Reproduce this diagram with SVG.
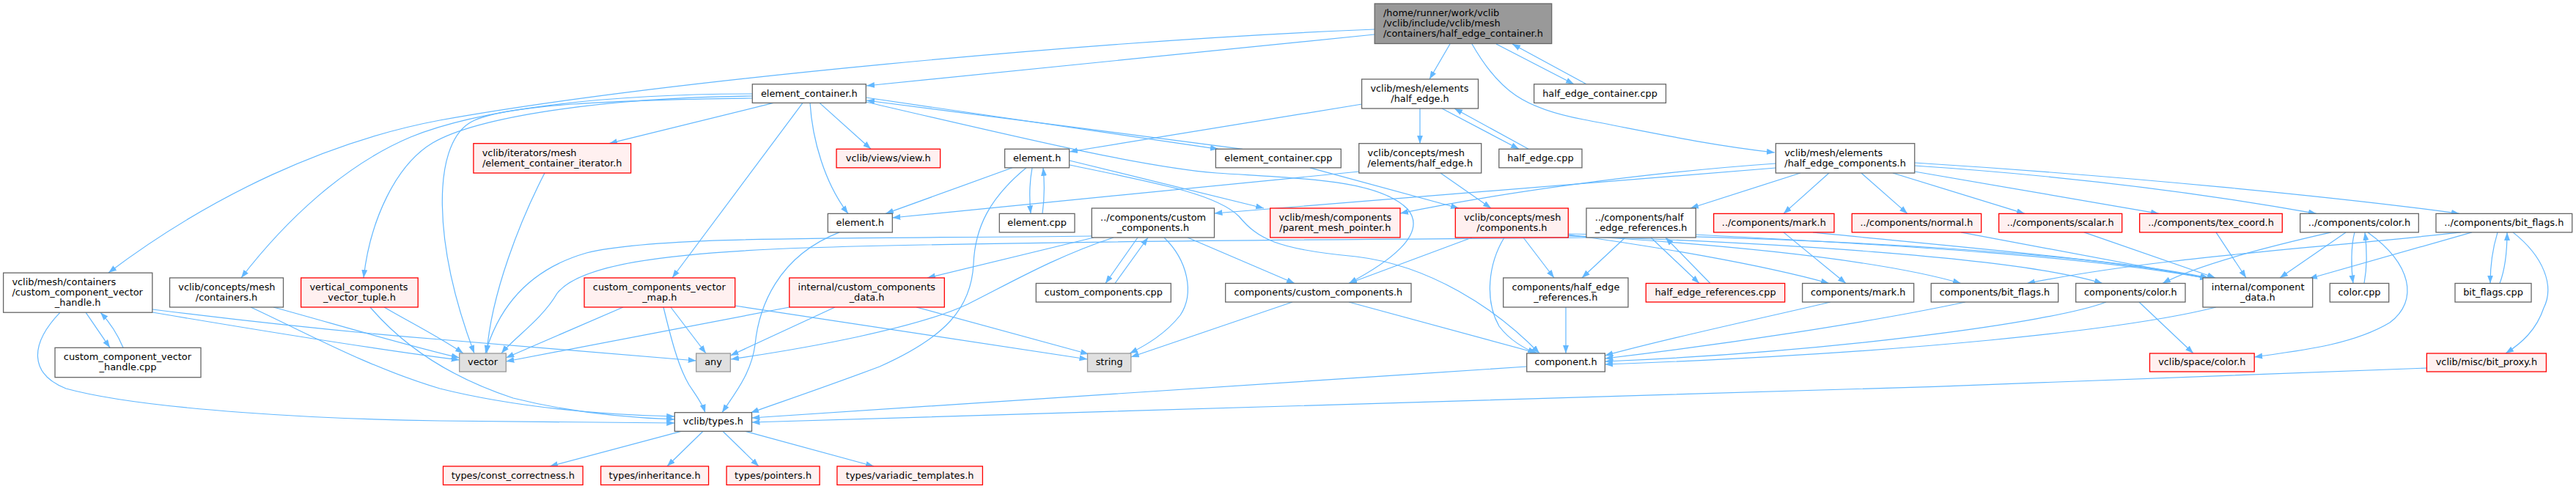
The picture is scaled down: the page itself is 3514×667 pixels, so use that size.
<svg xmlns="http://www.w3.org/2000/svg" width="3514" height="667" viewBox="0 0 3514 667">
<defs>
<marker id="a" markerUnits="userSpaceOnUse" markerWidth="12" markerHeight="9" refX="11" refY="4" orient="auto"><path d="M0,0 L11,4 L0,8 z" fill="#63b8ff"/></marker>
<style>
rect{stroke-width:1.3}
.n rect{fill:#ffffff;stroke:#666666}
.r rect{fill:#fff0f0;stroke:#ff0000}
.x rect{fill:#e0e0e0;stroke:#999999}
.m rect{fill:#999999;stroke:#666666}
text{font-family:"DejaVu Sans","Liberation Sans",sans-serif;font-size:12.9px;fill:#000000}
.c{text-anchor:middle}
#edges path{fill:none;stroke:#63b8ff;stroke-width:1.2;marker-end:url(#a)}
</style>
</defs>
<rect width="3514" height="667" fill="#ffffff"/>
<g id="edges">
<path d="M1875,47 L1182,117"/>
<path d="M1875,40 C1500,55 900,110 600,164 C450,192 290,265 148,372"/>
<path d="M1978,60 L1950,108"/>
<path d="M2008,60 C2045,125 2080,148 2160,163 C2250,180 2330,198 2421,208"/>
<path d="M2041,60 L2147,114.8"/>
<path d="M2164,114.8 L2063,60"/>
<path d="M1026,128 C820,128 650,150 560,187 C470,225 390,300 329,379"/>
<path d="M1026,131 C820,133 650,160 590,195 C540,225 505,300 496,379"/>
<path d="M1026,134 C850,136 680,142 640,168 C590,200 590,330 647,482"/>
<path d="M1055,140.4 L831,195.7"/>
<path d="M1095,140.4 L917,379"/>
<path d="M1105,140.4 C1108,190 1125,250 1157,291.4"/>
<path d="M1118,140.4 L1188,203.3"/>
<path d="M1181,133 L1662,203.3"/>
<path d="M1695,203.3 L1182,137"/>
<path d="M1181,139 C1400,190 1560,228 1660,236 C1780,244 1880,245 1920,285 C1950,320 1890,360 1840,386.5"/>
<path d="M1858,142 L1459,207"/>
<path d="M1937,148 L1937,195.7"/>
<path d="M1967,148 L2072,203.3"/>
<path d="M2085,203.3 L1984,148"/>
<path d="M1965,236 L2034,284"/>
<path d="M1854,234 L1217.3,297"/>
<path d="M1787,228.8 L1990,284"/>
<path d="M1381,228.8 L1208,291.4"/>
<path d="M1408,228.8 C1404,250 1404,270 1406,291.4"/>
<path d="M1422,291.4 C1425,270 1425,250 1423,228.8"/>
<path d="M1400,228.8 C1350,270 1330,310 1328,360 C1325,420 1290,460 1200,500 C1120,530 1060,550 1024,563"/>
<path d="M1459,219 L1724,284"/>
<path d="M1459,225 C1580,250 1660,265 1690,295 C1715,325 1740,340 1850,350 C1950,362 2040,420 2100,482"/>
<path d="M1145,316.9 C1060,350 1035,420 1030,470 C1025,510 1000,540 985,562.7"/>
<path d="M1492,324 L1265,379"/>
<path d="M1552,324 L1508,386.5"/>
<path d="M1521,386.5 L1566,324"/>
<path d="M1588,324 C1620,355 1630,400 1610,430 C1590,455 1565,470 1541,482"/>
<path d="M1620,324 L1766,386.5"/>
<path d="M1519,324 C1440,350 1380,385 1320,415 C1250,448 1100,475 997,490"/>
<path d="M1489.3,322 C1200,326 900,320 800,345 C720,368 680,420 662,482"/>
<path d="M2164,324 C2000,326 1400,328 1100,338 C900,345 790,362 760,400 C740,435 700,462 684,482"/>
<path d="M208,422 C350,440 500,455 600,463 L949.7,492"/>
<path d="M208,426 C350,450 500,475 626.7,491"/>
<path d="M82,426.2 C40,470 40,510 90,530 C200,560 450,572 600,574 L920.3,577"/>
<path d="M117,426.2 L150,474.3"/>
<path d="M168,474.3 C160,455 150,440 137,426.2"/>
<path d="M373,419 C450,440 550,470 626.7,488"/>
<path d="M342,419 C420,455 500,500 600,530 C700,555 820,566 920.3,568"/>
<path d="M524,419 C560,440 600,460 632,482"/>
<path d="M505,419 C540,460 600,510 700,543 C780,563 860,570 920.3,572"/>
<path d="M743,236 C710,300 670,400 664,482"/>
<path d="M850,419 L690.3,488"/>
<path d="M915,419 L963,482"/>
<path d="M905,419 C915,460 925,500 940,525 C950,540 958,550 962,562.7"/>
<path d="M1002.7,417 L1483.5,490"/>
<path d="M1077,419 L690.3,493"/>
<path d="M1139,419 L996.4,485"/>
<path d="M1250,419 L1485,483"/>
<path d="M1840,412 L2098,482"/>
<path d="M1763,412 L1542.8,487"/>
<path d="M2008,324 L1840,386.5"/>
<path d="M2078,324 L2120,379"/>
<path d="M2052,324 C2030,360 2025,410 2045,445 C2060,465 2080,475 2095,482"/>
<path d="M2139.3,320 C2250,335 2400,360 2495,386.5"/>
<path d="M2139.3,321 C2300,330 2550,350 2675,386.5"/>
<path d="M2139.3,322 C2400,330 2750,350 2868,386.5"/>
<path d="M2139.3,319 C2500,325 2850,345 3013,379"/>
<path d="M2217,324 L2158,379"/>
<path d="M2252,324 L2318,386.5"/>
<path d="M2333,386.5 L2272,324"/>
<path d="M2313.3,320 C2600,335 2850,350 3012,380"/>
<path d="M2136,419 L2136,482"/>
<path d="M2495,236 L2433,291.4"/>
<path d="M2539,236 L2602,291.4"/>
<path d="M2582,236 L2762,291.4"/>
<path d="M2611.8,234 L2945,291.4"/>
<path d="M2611.8,226 Q2900,245 3160,291.4"/>
<path d="M2611.8,222 C2900,240 3200,270 3355,291.4"/>
<path d="M2456,236 L2306,284"/>
<path d="M2422.4,229 Q2100,255 1656.5,291"/>
<path d="M2422.4,223 C2250,235 2050,262 1910,291"/>
<path d="M2433,316.9 L2518,386.5"/>
<path d="M2473,316.9 C2650,335 2900,355 3012,380"/>
<path d="M2675,316.9 L3012,380"/>
<path d="M2843,316.9 L3022,379"/>
<path d="M3023,316.9 L3064,379"/>
<path d="M3180,316.9 C3100,335 3000,360 2950,386.5"/>
<path d="M3200,316.9 L3110,379"/>
<path d="M3212,316.9 C3207,335 3207,365 3210,386.5"/>
<path d="M3225,386.5 C3229,365 3229,340 3226,316.9"/>
<path d="M3230,316.9 C3290,360 3300,410 3260,440 C3210,470 3140,478 3075.2,487"/>
<path d="M3357,316.9 C3150,340 2950,350 2765,386.5"/>
<path d="M3372,316.9 L3150,380"/>
<path d="M3407,316.9 C3400,340 3397,365 3397,386.5"/>
<path d="M3410,386.5 C3418,365 3420,340 3420,316.9"/>
<path d="M3428,316.9 C3470,350 3485,390 3470,420 C3460,450 3440,468 3418,482"/>
<path d="M2497,412 C2400,435 2280,460 2189.4,485"/>
<path d="M2681,412 C2550,440 2350,470 2189.4,489"/>
<path d="M2873,412 C2800,440 2500,480 2189.4,493"/>
<path d="M2918,412 L2992,482"/>
<path d="M3023,419 C2900,450 2600,482 2189.4,497"/>
<path d="M2082.7,500 C1700,525 1300,555 1025.5,570"/>
<path d="M3310.4,502 C2500,535 1500,565 1025.5,576"/>
<path d="M929,588.3 L750,636"/>
<path d="M959,588.3 L910,636"/>
<path d="M986,588.3 L1035,636"/>
<path d="M1017,588.3 L1192,636"/>
</g>
<g id="n_main" class="m"><rect x="1875.2" y="5" width="241.5" height="54.5"/><text x="1887" y="22.2">/home/runner/work/vclib</text><text x="1887" y="36.2">/vclib/include/vclib/mesh</text><text class="c" x="1996" y="50.2">/containers/half_edge_container.h</text></g>
<g id="n_ec" class="n"><rect x="1026.3" y="114.8" width="155" height="25.6"/><text class="c" x="1103.8" y="131.5">element_container.h</text></g>
<g id="n_hecpp" class="n"><rect x="2092.6" y="114.8" width="179.9" height="25.6"/><text class="c" x="2182.55" y="131.5">half_edge_container.cpp</text></g>
<g id="n_he" class="n"><rect x="1857.6" y="108" width="158.9" height="40"/><text x="1869.4" y="124.9">vclib/mesh/elements</text><text class="c" x="1937.05" y="138.9">/half_edge.h</text></g>
<g id="n_iter" class="r"><rect x="645.9" y="195.7" width="214.7" height="40.3"/><text x="657.7" y="212.75">vclib/iterators/mesh</text><text class="c" x="753.25" y="226.75">/element_container_iterator.h</text></g>
<g id="n_view" class="r"><rect x="1141" y="203.3" width="141.6" height="25.5"/><text class="c" x="1211.8" y="220">vclib/views/view.h</text></g>
<g id="n_e1" class="n"><rect x="1370.6" y="203.3" width="88" height="25.5"/><text class="c" x="1414.6" y="220">element.h</text></g>
<g id="n_eccpp" class="n"><rect x="1658.4" y="203.3" width="170.9" height="25.5"/><text class="c" x="1743.85" y="220">element_container.cpp</text></g>
<g id="n_che" class="n"><rect x="1853.8" y="195.7" width="166.9" height="40.3"/><text x="1865.6" y="212.75">vclib/concepts/mesh</text><text class="c" x="1937.25" y="226.75">/elements/half_edge.h</text></g>
<g id="n_hecpp2" class="n"><rect x="2044.8" y="203.3" width="113.2" height="25.5"/><text class="c" x="2101.4" y="220">half_edge.cpp</text></g>
<g id="n_hec" class="n"><rect x="2422.4" y="195.7" width="189.4" height="40.3"/><text x="2434.2" y="212.75">vclib/mesh/elements</text><text class="c" x="2517.1" y="226.75">/half_edge_components.h</text></g>
<g id="n_e2" class="n"><rect x="1129.3" y="291.4" width="88" height="25.5"/><text class="c" x="1173.3" y="308">element.h</text></g>
<g id="n_ecpp" class="n"><rect x="1363.3" y="291.4" width="102.7" height="25.5"/><text class="c" x="1414.65" y="308">element.cpp</text></g>
<g id="n_ccc" class="n"><rect x="1489.3" y="284" width="167.2" height="40"/><text x="1501.1" y="300.9">../components/custom</text><text class="c" x="1572.9" y="314.9">_components.h</text></g>
<g id="n_pmp" class="r"><rect x="1732.7" y="284" width="177.3" height="40"/><text x="1744.5" y="300.9">vclib/mesh/components</text><text class="c" x="1821.35" y="314.9">/parent_mesh_pointer.h</text></g>
<g id="n_cmc" class="r"><rect x="1985.3" y="284" width="154" height="40"/><text x="1997.1" y="300.9">vclib/concepts/mesh</text><text class="c" x="2062.3" y="314.9">/components.h</text></g>
<g id="n_cher" class="n"><rect x="2164" y="284" width="149.3" height="40"/><text x="2175.8" y="300.9">../components/half</text><text class="c" x="2238.65" y="314.9">_edge_references.h</text></g>
<g id="n_cmark" class="r"><rect x="2337.7" y="291.4" width="164.3" height="25.5"/><text class="c" x="2419.85" y="308">../components/mark.h</text></g>
<g id="n_cnormal" class="r"><rect x="2526.3" y="291.4" width="176.4" height="25.5"/><text class="c" x="2614.5" y="308">../components/normal.h</text></g>
<g id="n_cscalar" class="r"><rect x="2726.7" y="291.4" width="168" height="25.5"/><text class="c" x="2810.7" y="308">../components/scalar.h</text></g>
<g id="n_ctex" class="r"><rect x="2918.7" y="291.4" width="194.6" height="25.5"/><text class="c" x="3016" y="308">../components/tex_coord.h</text></g>
<g id="n_ccolor" class="n"><rect x="3137.7" y="291.4" width="161.6" height="25.5"/><text class="c" x="3218.5" y="308">../components/color.h</text></g>
<g id="n_ccbf" class="n"><rect x="3323" y="291.4" width="185.7" height="25.5"/><text class="c" x="3415.85" y="308">../components/bit_flags.h</text></g>
<g id="n_ccvh" class="n"><rect x="4.6" y="372.2" width="203.2" height="54"/><text x="16.4" y="389.1">vclib/mesh/containers</text><text x="16.4" y="403.1">/custom_component_vector</text><text class="c" x="106.2" y="417.1">_handle.h</text></g>
<g id="n_cont" class="n"><rect x="231.5" y="379" width="155" height="40"/><text x="243.3" y="395.9">vclib/concepts/mesh</text><text class="c" x="309" y="409.9">/containers.h</text></g>
<g id="n_vct" class="r"><rect x="410.6" y="379" width="159.6" height="40"/><text x="422.4" y="395.9">vertical_components</text><text class="c" x="490.4" y="409.9">_vector_tuple.h</text></g>
<g id="n_cvm" class="r"><rect x="797" y="379" width="205.7" height="40"/><text x="808.8" y="395.9">custom_components_vector</text><text class="c" x="899.85" y="409.9">_map.h</text></g>
<g id="n_icd" class="r"><rect x="1076.8" y="379" width="211.5" height="40"/><text x="1088.6" y="395.9">internal/custom_components</text><text class="c" x="1182.55" y="409.9">_data.h</text></g>
<g id="n_cccpp" class="n"><rect x="1413.3" y="386.5" width="184" height="25.5"/><text class="c" x="1505.3" y="403.2">custom_components.cpp</text></g>
<g id="n_comcc" class="n"><rect x="1671.7" y="386.5" width="253.3" height="25.5"/><text class="c" x="1798.35" y="403.2">components/custom_components.h</text></g>
<g id="n_comher" class="n"><rect x="2050.7" y="379" width="170.3" height="40"/><text x="2062.5" y="395.9">components/half_edge</text><text class="c" x="2135.85" y="409.9">_references.h</text></g>
<g id="n_hercpp" class="r"><rect x="2245.3" y="386.5" width="189.4" height="25.5"/><text class="c" x="2340" y="403.2">half_edge_references.cpp</text></g>
<g id="n_cm" class="n"><rect x="2458.7" y="386.5" width="152" height="25.5"/><text class="c" x="2534.7" y="403.2">components/mark.h</text></g>
<g id="n_cbfh" class="n"><rect x="2634.3" y="386.5" width="173.4" height="25.5"/><text class="c" x="2721" y="403.2">components/bit_flags.h</text></g>
<g id="n_ccol" class="n"><rect x="2831.7" y="386.5" width="149.3" height="25.5"/><text class="c" x="2906.35" y="403.2">components/color.h</text></g>
<g id="n_icomp" class="n"><rect x="3005" y="379" width="149.7" height="40"/><text x="3016.8" y="395.9">internal/component</text><text class="c" x="3079.85" y="409.9">_data.h</text></g>
<g id="n_colorcpp" class="n"><rect x="3178.3" y="386.5" width="80.4" height="25.5"/><text class="c" x="3218.5" y="403.2">color.cpp</text></g>
<g id="n_bfcpp" class="n"><rect x="3349" y="386.5" width="104" height="25.5"/><text class="c" x="3401" y="403.2">bit_flags.cpp</text></g>
<g id="n_ccvhcpp" class="n"><rect x="75" y="474.3" width="199" height="40.4"/><text x="86.8" y="491.4">custom_component_vector</text><text class="c" x="174.5" y="505.4">_handle.cpp</text></g>
<g id="n_vector" class="x"><rect x="626.7" y="482" width="63.6" height="25"/><text class="c" x="658.5" y="498.4">vector</text></g>
<g id="n_any" class="x"><rect x="949.7" y="482" width="46.7" height="25"/><text class="c" x="973.05" y="498.4">any</text></g>
<g id="n_string" class="x"><rect x="1483.5" y="482" width="59.3" height="25"/><text class="c" x="1513.15" y="498.4">string</text></g>
<g id="n_comp" class="n"><rect x="2082.7" y="482" width="106.7" height="25"/><text class="c" x="2136.05" y="498.4">component.h</text></g>
<g id="n_scol" class="r"><rect x="2932.5" y="482" width="142.7" height="25"/><text class="c" x="3003.85" y="498.4">vclib/space/color.h</text></g>
<g id="n_bp" class="r"><rect x="3310.4" y="482" width="163" height="25"/><text class="c" x="3391.9" y="498.4">vclib/misc/bit_proxy.h</text></g>
<g id="n_types" class="n"><rect x="920.3" y="562.7" width="105.2" height="25.6"/><text class="c" x="972.9" y="579.4">vclib/types.h</text></g>
<g id="n_tcc" class="r"><rect x="604.5" y="636" width="190.6" height="25.4"/><text class="c" x="699.8" y="652.6">types/const_correctness.h</text></g>
<g id="n_tinh" class="r"><rect x="819.6" y="636" width="147" height="25.4"/><text class="c" x="893.1" y="652.6">types/inheritance.h</text></g>
<g id="n_tptr" class="r"><rect x="991.1" y="636" width="127" height="25.4"/><text class="c" x="1054.6" y="652.6">types/pointers.h</text></g>
<g id="n_tvar" class="r"><rect x="1141.9" y="636" width="198.5" height="25.4"/><text class="c" x="1241.15" y="652.6">types/variadic_templates.h</text></g>
</svg>
